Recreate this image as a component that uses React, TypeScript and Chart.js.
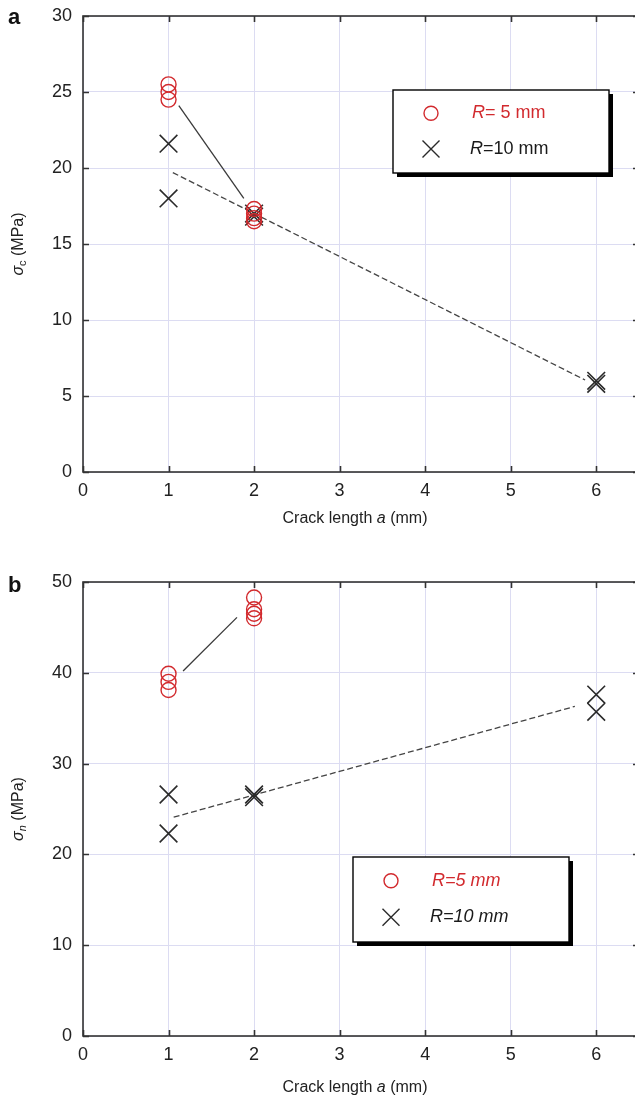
import React, { useEffect, useRef } from 'react';
import { Chart, registerables } from 'chart.js';

Chart.register(...registerables);

// ---------- data ----------
const xTickValues = [0, 1, 2, 3, 4, 5, 6];
const yTicksA = [0, 5, 10, 15, 20, 25, 30];
const yTicksB = [0, 10, 20, 30, 40, 50];

// panel a : sigma_c
const aR5X = [1, 1, 1, 2, 2, 2, 2];
const aR5Y = [25.5, 25.0, 24.5, 17.3, 17.0, 16.7, 16.5];
const aR10X = [1, 1, 2, 2, 6, 6];
const aR10Y = [21.6, 18.0, 17.0, 16.8, 6.0, 5.8];
const aFitR5X = [1.12, 1.88];
const aFitR5Y = [24.1, 18.0];
const aFitR10X = [1.05, 5.87];
const aFitR10Y = [19.7, 6.05];

// panel b : sigma_n
const bR5X = [1, 1, 1, 2, 2, 2, 2];
const bR5Y = [39.9, 39.0, 38.1, 48.3, 47.0, 46.5, 46.0];
const bR10X = [1, 1, 2, 2, 6, 6];
const bR10Y = [26.6, 22.3, 26.6, 26.3, 37.6, 35.7];
const bFitR5X = [1.17, 1.8];
const bFitR5Y = [40.2, 46.1];
const bFitR10X = [1.06, 5.75];
const bFitR10Y = [24.1, 36.3];

const legendA = ['R= 5 mm', 'R=10 mm'];
const legendB = ['R=5 mm', 'R=10 mm'];

// ---------- styles ----------
const RED = '#d22a2e';
const DARK = '#2a2a2a';
const GRID = '#dcdcf2';
const FONT = '"Liberation Sans", Arial, Helvetica, sans-serif';

const pts = (xs: number[], ys: number[]) => xs.map((x, i) => ({ x, y: ys[i] }));

type Run = { t: string; f: string; dy?: number };

function runsWidth(ctx: CanvasRenderingContext2D, runs: Run[]) {
  let w = 0;
  for (const r of runs) {
    ctx.font = r.f;
    w += ctx.measureText(r.t).width;
  }
  return w;
}

function drawRuns(ctx: CanvasRenderingContext2D, runs: Run[], x: number, y: number) {
  let cx = x;
  for (const r of runs) {
    ctx.font = r.f;
    ctx.fillText(r.t, cx, y + (r.dy || 0));
    cx += ctx.measureText(r.t).width;
  }
}

function drawCircle(ctx: CanvasRenderingContext2D, x: number, y: number, r: number) {
  ctx.beginPath();
  ctx.arc(x, y, r, 0, Math.PI * 2);
  ctx.stroke();
}
function drawCross(ctx: CanvasRenderingContext2D, x: number, y: number, h: number) {
  ctx.beginPath();
  ctx.moveTo(x - h, y - h);
  ctx.lineTo(x + h, y + h);
  ctx.moveTo(x - h, y + h);
  ctx.lineTo(x + h, y - h);
  ctx.stroke();
}

interface PanelOpts {
  label: string;
  yTicks: number[];
  yMax: number;
  sub: string;
  subItalic: boolean;
  legend: string[];
  legendAllItalic: boolean;
  legendBox: { x: number; y: number; w: number; h: number };
  labelBaseline: number;
  xTitleY: number;
}

function makePlugin(o: PanelOpts) {
  return {
    id: 'decor',
    afterDraw(chart: any) {
      const ctx: CanvasRenderingContext2D = chart.ctx;
      const { left, right, top, bottom } = chart.chartArea;
      const xs = chart.scales.x;
      const ys = chart.scales.y;
      ctx.save();
      // frame
      ctx.strokeStyle = '#333';
      ctx.lineWidth = 1.6;
      ctx.strokeRect(left, top, right - left, bottom - top);
      // inward ticks
      ctx.beginPath();
      for (const v of xTickValues) {
        const px = Math.round(xs.getPixelForValue(v)) + 0.5;
        ctx.moveTo(px, bottom);
        ctx.lineTo(px, bottom - 6);
        ctx.moveTo(px, top);
        ctx.lineTo(px, top + 6);
      }
      for (const v of o.yTicks) {
        const py = Math.round(ys.getPixelForValue(v)) + 0.5;
        ctx.moveTo(left, py);
        ctx.lineTo(left + 6, py);
        ctx.moveTo(right, py);
        ctx.lineTo(right - 6, py);
      }
      ctx.stroke();

      // tick labels
      ctx.fillStyle = '#222';
      ctx.font = `18px ${FONT}`;
      ctx.textAlign = 'center';
      ctx.textBaseline = 'top';
      for (const v of xTickValues) {
        ctx.fillText(String(v), xs.getPixelForValue(v), bottom + 10);
      }
      ctx.textAlign = 'right';
      ctx.textBaseline = 'middle';
      for (const v of o.yTicks) {
        ctx.fillText(String(v), left - 11, ys.getPixelForValue(v));
      }

      // panel label
      ctx.fillStyle = '#111';
      ctx.textBaseline = 'alphabetic';
      ctx.textAlign = 'left';
      ctx.font = `bold 22px ${FONT}`;
      ctx.fillText(o.label, 8, o.labelBaseline);

      // x title
      ctx.fillStyle = '#222';
      const xRuns: Run[] = [
        { t: 'Crack length ', f: `16px ${FONT}` },
        { t: 'a', f: `italic 16px ${FONT}` },
        { t: ' (mm)', f: `16px ${FONT}` },
      ];
      const xw = runsWidth(ctx, xRuns);
      ctx.textBaseline = 'middle';
      drawRuns(ctx, xRuns, (left + 635) / 2 - 4 - xw / 2, o.xTitleY);

      // y title (rotated)
      const yRuns: Run[] = [
        { t: 'σ', f: `italic 16px ${FONT}` },
        { t: o.sub, f: `${o.subItalic ? 'italic ' : ''}11px ${FONT}`, dy: 4 },
        { t: ' (MPa)', f: `16px ${FONT}` },
      ];
      const yw = runsWidth(ctx, yRuns);
      ctx.save();
      ctx.translate(19, (top + bottom) / 2);
      ctx.rotate(-Math.PI / 2);
      drawRuns(ctx, yRuns, -yw / 2, 0);
      ctx.restore();

      // legend
      const b = o.legendBox;
      ctx.fillStyle = '#000';
      ctx.fillRect(b.x + 4, b.y + 4, b.w, b.h);
      ctx.fillStyle = '#fff';
      ctx.fillRect(b.x, b.y, b.w, b.h);
      ctx.strokeStyle = '#000';
      ctx.lineWidth = 1.4;
      ctx.strokeRect(b.x, b.y, b.w, b.h);
      const row1 = b.y + b.h * 0.28;
      const row2 = b.y + b.h * 0.71;
      const mx = b.x + 38;
      ctx.lineWidth = 1.4;
      ctx.strokeStyle = RED;
      drawCircle(ctx, mx, row1, 7);
      ctx.strokeStyle = DARK;
      drawCross(ctx, mx, row2, 8.5);
      ctx.textBaseline = 'middle';
      const tx = b.x + 79;
      const mk = (s: string): Run[] =>
        o.legendAllItalic
          ? [{ t: s, f: `italic 18px ${FONT}` }]
          : [
              { t: s.slice(0, 1), f: `italic 18px ${FONT}` },
              { t: s.slice(1), f: `18px ${FONT}` },
            ];
      ctx.fillStyle = RED;
      drawRuns(ctx, mk(o.legend[0]), tx, row1);
      ctx.fillStyle = '#1a1a1a';
      drawRuns(ctx, mk(o.legend[1]), tx - 2, row2);
      ctx.restore();
    },
  };
}

function buildConfig(
  o: PanelOpts,
  r5: { x: number; y: number }[],
  r10: { x: number; y: number }[],
  fit5: { x: number; y: number }[],
  fit10: { x: number; y: number }[],
  plotTop: number,
  axisHeight: number
): any {
  return {
    type: 'scatter',
    data: {
      datasets: [
        {
          label: 'fit5',
          data: fit5,
          showLine: true,
          pointRadius: 0,
          borderColor: '#3a3a3a',
          borderWidth: 1.3,
          order: 3,
        },
        {
          label: 'fit10',
          data: fit10,
          showLine: true,
          pointRadius: 0,
          borderColor: '#444',
          borderWidth: 1.3,
          borderDash: [6, 3],
          order: 3,
        },
        {
          label: o.legend[1],
          data: r10,
          pointStyle: 'crossRot',
          pointRadius: 12.5,
          borderColor: DARK,
          backgroundColor: 'transparent',
          borderWidth: 1.6,
          order: 2,
        },
        {
          label: o.legend[0],
          data: r5,
          pointStyle: 'circle',
          pointRadius: 7.5,
          borderColor: RED,
          backgroundColor: 'transparent',
          borderWidth: 1.4,
          order: 1,
        },
      ],
    },
    options: {
      responsive: false,
      animation: false,
      devicePixelRatio: 1,
      layout: { autoPadding: false, padding: { top: plotTop, left: 0, right: 0, bottom: 0 } },
      plugins: { legend: { display: false }, tooltip: { enabled: false }, title: { display: false } },
      scales: {
        x: {
          type: 'linear',
          min: 0,
          max: 6.5,
          afterBuildTicks: (s: any) => {
            s.ticks = xTickValues.map((v) => ({ value: v }));
          },
          afterFit: (s: any) => {
            s.height = axisHeight;
          },
          grid: { color: GRID, lineWidth: 1, drawTicks: false },
          border: { display: false },
          ticks: { display: false },
        },
        y: {
          type: 'linear',
          min: 0,
          max: o.yMax,
          afterBuildTicks: (s: any) => {
            s.ticks = o.yTicks.map((v) => ({ value: v }));
          },
          afterFit: (s: any) => {
            s.width = 83;
          },
          grid: { color: GRID, lineWidth: 1, drawTicks: false },
          border: { display: false },
          ticks: { display: false },
        },
      },
    },
    plugins: [makePlugin(o)],
  };
}

function Panel(props: { cfg: any; width: number; height: number }) {
  const ref = useRef<HTMLCanvasElement | null>(null);
  useEffect(() => {
    if (!ref.current) return;
    const chart = new Chart(ref.current, props.cfg);
    return () => chart.destroy();
  }, []);
  return (
    <div style={{ width: props.width, height: props.height }}>
      <canvas ref={ref} width={props.width} height={props.height} style={{ display: 'block' }} />
    </div>
  );
}

export default function App() {
  useEffect(() => {
    document.body.style.margin = '0';
    document.body.style.overflow = 'hidden';
    document.body.style.background = '#fff';
  }, []);

  const optsA: PanelOpts = {
    label: 'a',
    yTicks: yTicksA,
    yMax: 30,
    sub: 'c',
    subItalic: false,
    legend: legendA,
    legendAllItalic: false,
    legendBox: { x: 393, y: 90, w: 216, h: 83 },
    labelBaseline: 24,
    xTitleY: 519,
  };
  const optsB: PanelOpts = {
    label: 'b',
    yTicks: yTicksB,
    yMax: 50,
    sub: 'n',
    subItalic: true,
    legend: legendB,
    legendAllItalic: true,
    legendBox: { x: 353, y: 327, w: 216, h: 85 },
    labelBaseline: 62,
    xTitleY: 558,
  };

  const cfgA = buildConfig(optsA, pts(aR5X, aR5Y), pts(aR10X, aR10Y), pts(aFitR5X, aFitR5Y), pts(aFitR10X, aFitR10Y), 16, 58);
  const cfgB = buildConfig(optsB, pts(bR5X, bR5Y), pts(bR10X, bR10Y), pts(bFitR5X, bFitR5Y), pts(bFitR10X, bFitR10Y), 52, 66);

  return (
    <div style={{ width: 635, height: 1102, overflow: 'hidden', background: '#fff' }}>
      <Panel cfg={cfgA} width={639} height={530} />
      <Panel cfg={cfgB} width={639} height={572} />
    </div>
  );
}
